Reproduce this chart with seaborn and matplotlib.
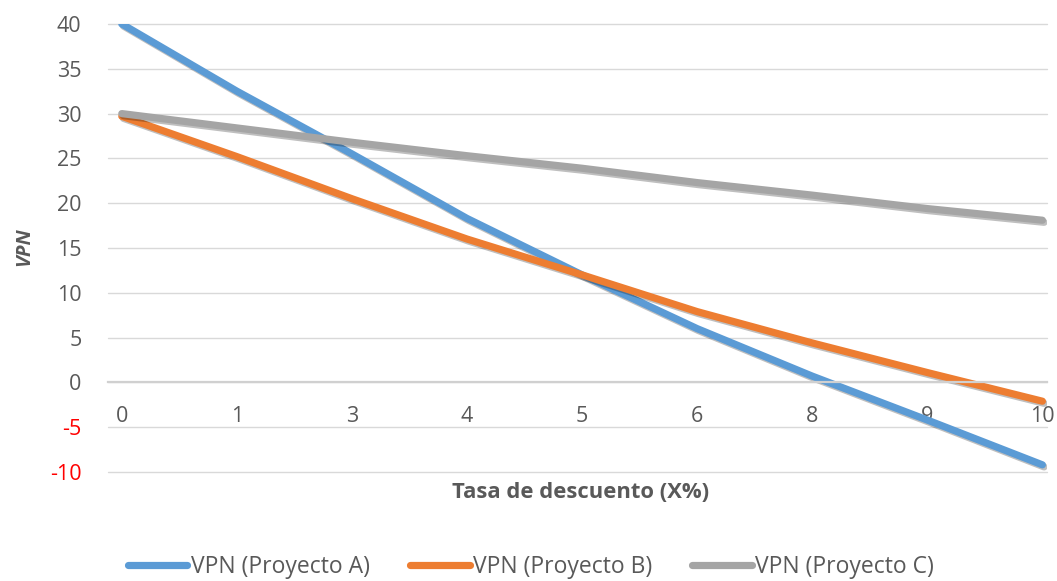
import numpy as np
import pandas as pd
import matplotlib
matplotlib.use("Agg")
import matplotlib.pyplot as plt
import matplotlib.patheffects as pe
from matplotlib.lines import Line2D
import seaborn as sns

categories = ["0", "1", "3", "4", "5", "6", "8", "9", "10"]
vpn_a = [40, 32.5, 25.5, 18.3, 12.0, 6.0, 0.7, -4.2, -9.2]
vpn_b = [29.7, 25.2, 20.5, 16.0, 12.0, 7.9, 4.4, 1.1, -2.1]
vpn_c = [30.0, 28.4, 26.8, 25.3, 23.9, 22.3, 20.9, 19.4, 18.1]
series_names = ["VPN (Proyecto A)", "VPN (Proyecto B)", "VPN (Proyecto C)"]
colors = ["#5B9BD5", "#ED7D31", "#A5A5A5"]
y_ticks = [-10, -5, 0, 5, 10, 15, 20, 25, 30, 35, 40]

pos = np.arange(len(categories))
df = pd.concat([
    pd.DataFrame({"pos": pos, "vpn": vals, "serie": name})
    for name, vals in zip(series_names, [vpn_a, vpn_b, vpn_c])
], ignore_index=True)

sns.set_theme(style="white")
plt.rcParams["font.family"] = ["Open Sans", "DejaVu Sans"]

W, H = 1057, 581
fig = plt.figure(figsize=(W / 100, H / 100), dpi=100)
ax = fig.add_axes([108 / W, 1 - 472 / H, (1047 - 108) / W, (472 - 24) / H])

sns.lineplot(data=df, x="pos", y="vpn", hue="serie", palette=colors,
             linewidth=5.2, ax=ax, legend=False, sort=False)
for line in ax.get_lines():
    line.set_solid_capstyle("round")
    line.set_solid_joinstyle("round")
    line.set_path_effects([pe.SimpleLineShadow(offset=(1.2, -1.5), alpha=0.25,
                                               shadow_color="black"), pe.Normal()])

ax.set_xlim(-0.12, 8.04)
ax.set_ylim(-10, 40)
ax.set_yticks(y_ticks)
ax.set_yticklabels([str(v) for v in y_ticks])
ax.set_xticks(pos)
ax.set_xticklabels(categories)
ax.tick_params(axis="both", length=0, labelsize=15.5, colors="#595959")
ax.tick_params(axis="x", pad=17)
ax.tick_params(axis="y", pad=19)
for lbl, v in zip(ax.get_yticklabels(), y_ticks):
    lbl.set_color("#FF0000" if v < 0 else "#595959")

ax.grid(axis="y", color="#D9D9D9", linewidth=1.0)
ax.grid(axis="x", visible=False)
for gl in ax.get_ygridlines():
    gl.set_clip_on(False)
for s in ["top", "right", "left"]:
    ax.spines[s].set_visible(False)
ax.spines["bottom"].set_position(("data", 0))
ax.spines["bottom"].set_color("#D0D0D0")
ax.spines["bottom"].set_linewidth(1.6)
ax.set_axisbelow(True)

ax.set_xlabel("")
ax.set_ylabel("")
fig.text(24 / W, 1 - 247 / H, "VPN", ha="center", va="center", rotation=90,
         fontsize=14.5, fontweight="bold", fontstyle="italic", color="#595959")
fig.text(581 / W, 1 - 493 / H, "Tasa de descuento (X%)", ha="center", va="center",
         fontsize=15.8, fontweight="bold", color="#595959")

handles = [Line2D([0], [0], color=c, linewidth=5.2, solid_capstyle="round") for c in colors]
leg = fig.legend(handles, series_names, loc="center", bbox_to_anchor=(531 / W, 1 - 567 / H),
                 ncol=3, frameon=False, fontsize=16.5, handlelength=2.6, handletextpad=0.15,
                 columnspacing=1.75, labelcolor="#595959")

fig.savefig("out.png", dpi=100, facecolor="white")
